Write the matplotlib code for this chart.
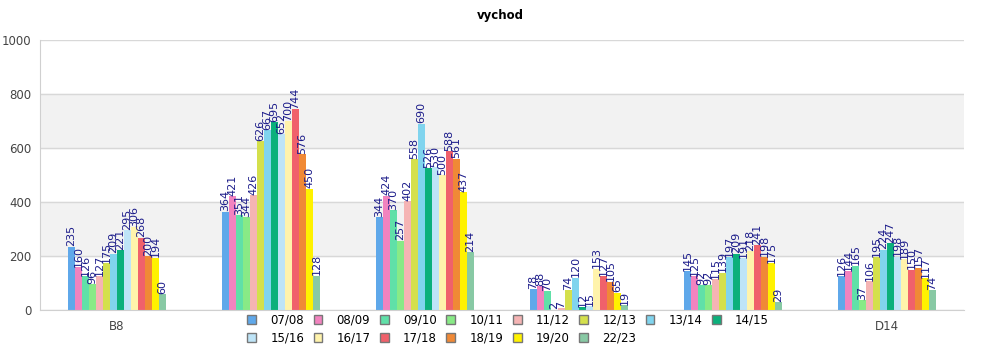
import matplotlib.pyplot as plt
import numpy as np
from matplotlib.patches import Patch

groups = ["B8", "", "", "", "", "D14"]
seasons = ["07/08", "08/09", "09/10", "10/11", "11/12", "12/13", "13/14",
           "14/15", "15/16", "16/17", "17/18", "18/19", "19/20", "22/23"]

s0708 = [235, 364, 344, 78, 145, 126]
s0809 = [160, 421, 424, 88, 125, 144]
s0910 = [126, 351, 370, 70, 92, 165]
s1011 = [96, 344, 257, 2, 92, 37]
s1112 = [127, 426, 402, 7, 115, 106]
s1213 = [175, 626, 558, 74, 139, 195]
s1314 = [209, 667, 690, 120, 197, 224]
s1415 = [221, 695, 526, 12, 209, 247]
s1516 = [295, 652, 530, 15, 191, 198]
s1617 = [306, 700, 500, 153, 218, 189]
s1718 = [268, 744, 588, 127, 241, 150]
s1819 = [200, 576, 561, 105, 198, 157]
s1920 = [194, 450, 437, 65, 175, 117]
s2223 = [60, 128, 214, 19, 29, 74]

series = [s0708, s0809, s0910, s1011, s1112, s1213, s1314,
          s1415, s1516, s1617, s1718, s1819, s1920, s2223]

colors = ["#5fa8ea", "#f283bf", "#60e0a8", "#88ea86", "#f5b4b4", "#d4e04c",
          "#80d4ee", "#0bb07b", "#bee4f7", "#fff3ab", "#f0616b", "#f08936",
          "#fff200", "#88c9a4"]

fig = plt.figure(figsize=(10, 3.5), dpi=100)
ax = fig.add_axes([0.04, 0.114, 0.924, 0.772])

# alternating horizontal bands
for lo in (200, 600):
    ax.axhspan(lo, lo + 200, color="#f2f2f2", zorder=0)

x = np.arange(len(groups))
bw = 0.0455
n = len(series)
for i, (vals, c) in enumerate(zip(series, colors)):
    pos = x + (i - (n - 1) / 2) * bw
    bars = ax.bar(pos, vals, width=bw, color=c, zorder=2, linewidth=0)
    for b, v in zip(bars, vals):
        ax.text(b.get_x() + b.get_width() / 2, v + 1, str(v), rotation=90,
                ha="center", va="bottom", fontsize=8, color="#1c1c8a",
                zorder=3)

ax.set_ylim(0, 1000)
ax.set_xlim(-0.5, len(groups) - 0.5)
ax.set_yticks(range(0, 1001, 200))
ax.set_xticks(x)
ax.set_xticklabels(groups)
ax.grid(axis="y", color="#d8d8d8", linewidth=1, zorder=1)
ax.set_axisbelow(True)
for side in ("top", "right"):
    ax.spines[side].set_visible(False)
for side in ("left", "bottom"):
    ax.spines[side].set_color("#d0d0d0")
ax.tick_params(length=0, labelsize=8.5, labelcolor="#444444", pad=6)
ax.tick_params(axis="x", pad=7)

fig.suptitle("vychod", fontsize=8.5, fontweight="bold", y=0.975)

handles = [Patch(facecolor=c, edgecolor="#777777", linewidth=1, label=s)
           for s, c in zip(seasons, colors)]
# fill row by row: 8 items on top, 6 below
order = []
for k in range(8):
    order.append(k)
    if k + 8 < n:
        order.append(k + 8)
fig.legend([handles[k] for k in order], [seasons[k] for k in order],
           ncol=8, loc="upper center", bbox_to_anchor=(0.508, 0.128),
           frameon=False, fontsize=8.5, handlelength=0.75, handleheight=0.75,
           columnspacing=0.8, handletextpad=1.2, labelspacing=0.45,
           borderpad=0.2)

fig.savefig("out.png")
